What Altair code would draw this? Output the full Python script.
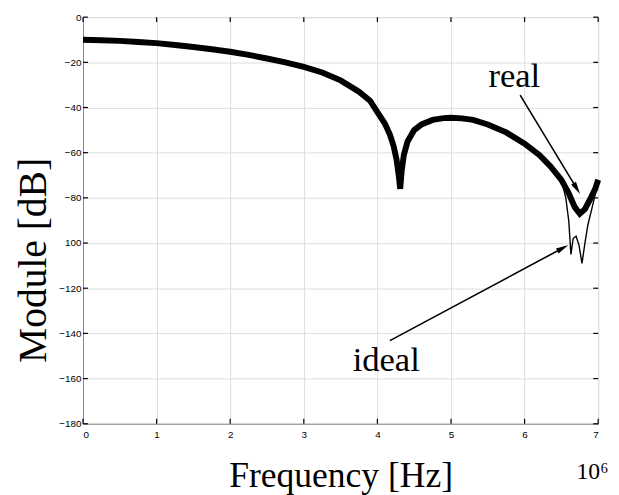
import altair as alt
import pandas as pd

# ---- data ----
freq = [0.0, 0.25, 0.5, 0.75, 1.0, 1.25, 1.5, 1.75, 2.0, 2.25, 2.5, 2.75, 3.0, 3.25,
        3.5, 3.75, 3.9, 4.0, 4.1, 4.17, 4.22, 4.26, 4.29, 4.31, 4.33, 4.36, 4.41,
        4.5, 4.6, 4.75, 4.9, 5.0, 5.15, 5.3, 5.5, 5.75, 6.0, 6.2, 6.35, 6.5, 6.6,
        6.68, 6.75, 6.82, 6.9, 6.96, 7.0]
real_db = [-10, -10.2, -10.5, -11, -11.5, -12.3, -13.2, -14.2, -15.3, -16.7, -18.3,
           -20, -22, -24.5, -28, -33, -37, -42, -47, -52, -57, -63, -70, -76, -68,
           -61, -55, -50, -47.5, -45.5, -44.7, -44.5, -44.8, -45.5, -47.5, -51, -56,
           -61, -66, -72, -78, -84, -87, -85, -80, -76, -72]

ideal_tail_freq = [6.56, 6.6, 6.63, 6.66, 6.7, 6.74, 6.78, 6.82, 6.86, 6.92, 6.97, 7.0]
ideal_tail_db = [-80, -90, -105, -98, -97, -101, -109, -100, -92, -84, -77, -73]

x_ticks = [0, 1, 2, 3, 4, 5, 6, 7]
y_ticks = [0, -20, -40, -60, -80, -100, -120, -140, -160, -180]

# annotations
label_text = ["real", "ideal"]
label_x = [5.86, 4.12]
label_y = [-31.0, -156.8]
arrow_x0 = [5.94, 4.17]
arrow_y0 = [-34.5, -143.2]
arrow_x1 = [6.71, 6.52]
arrow_y1 = [-75.9, -102.2]
arrow_angle = [148.6, 61.8]

# ---- tables ----
n_real = [i for i, f in enumerate(freq) if f <= 6.5]
ideal_freq = [freq[i] for i in n_real] + ideal_tail_freq
ideal_db = [real_db[i] for i in n_real] + ideal_tail_db

real_df = pd.DataFrame({"f": freq, "db": real_db})
ideal_df = pd.DataFrame({"f": ideal_freq, "db": ideal_db})
labels_df = pd.DataFrame({"t": label_text, "f": label_x, "db": label_y})
arrows_df = pd.DataFrame({"f": arrow_x0, "db": arrow_y0, "f2": arrow_x1, "db2": arrow_y1,
                          "ang": arrow_angle})
xt_df = pd.DataFrame({"f": x_ticks})
yt_df = pd.DataFrame({"db": y_ticks})

W, H = 522, 412
xscale = alt.Scale(domain=[0, 7], nice=False, zero=False)
yscale = alt.Scale(domain=[-180, 0], nice=False, zero=False)

x_axis = alt.Axis(values=x_ticks, format="d", ticks=False, labelPadding=6,
                  title="Frequency [Hz]", titleFont="Liberation Serif", titleFontSize=36,
                  titleFontWeight="normal", titleColor="black", titleY=53,
                  titleBaseline="middle", titleX=W / 2)
y_axis = alt.Axis(values=y_ticks, ticks=False, labelPadding=2,
                  labelExpr="datum.value == -100 ? '100' : datum.label",
                  title="Module [dB]", titleFont="Liberation Serif", titleFontSize=40,
                  titleFontWeight="normal", titleColor="black", titleAngle=-90,
                  titleX=-50, titleY=246, titleBaseline="middle", titleAlign="center")

real_line = alt.Chart(real_df).mark_line(color="black", strokeWidth=6).encode(
    x=alt.X("f:Q", scale=xscale, axis=x_axis),
    y=alt.Y("db:Q", scale=yscale, axis=y_axis),
)
ideal_line = alt.Chart(ideal_df).mark_line(color="black", strokeWidth=1.4).encode(
    x=alt.X("f:Q", scale=xscale),
    y=alt.Y("db:Q", scale=yscale),
)

arrow_lines = alt.Chart(arrows_df).mark_rule(color="black", strokeWidth=1.6).encode(
    x=alt.X("f:Q", scale=xscale), y=alt.Y("db:Q", scale=yscale),
    x2="f2:Q", y2="db2:Q",
)
arrow_heads = alt.Chart(arrows_df).mark_point(
    shape="M0,-1L0.45,1L-0.45,1Z", filled=True, color="black", opacity=1, size=160
).encode(
    x=alt.X("f2:Q", scale=xscale), y=alt.Y("db2:Q", scale=yscale),
    angle=alt.Angle("ang:Q", scale=None),
)
labels = alt.Chart(labels_df).mark_text(
    font="Liberation Serif", fontSize=35, color="black", baseline="alphabetic", align="center"
).encode(
    x=alt.X("f:Q", scale=xscale), y=alt.Y("db:Q", scale=yscale), text="t:N",
)

tick_style = dict(color="black", strokeWidth=1.2)
yt_left = alt.Chart(yt_df).mark_rule(**tick_style).encode(
    y=alt.Y("db:Q", scale=yscale), x=alt.value(0), x2=alt.value(5))
yt_right = alt.Chart(yt_df).mark_rule(**tick_style).encode(
    y=alt.Y("db:Q", scale=yscale), x=alt.value(W), x2=alt.value(W - 5))
xt_bottom = alt.Chart(xt_df).mark_rule(**tick_style).encode(
    x=alt.X("f:Q", scale=xscale), y=alt.value(H), y2=alt.value(H - 5))
xt_top = alt.Chart(xt_df).mark_rule(**tick_style).encode(
    x=alt.X("f:Q", scale=xscale), y=alt.value(0), y2=alt.value(5))

exp_text = alt.Chart(pd.DataFrame({"t": ["10⁶"]})).mark_text(
    font="Liberation Serif", fontSize=24, color="black", align="left", baseline="alphabetic"
).encode(text="t:N", x=alt.value(500), y=alt.value(468))

chart = alt.layer(
    ideal_line, real_line, arrow_lines, arrow_heads, labels,
    yt_left, yt_right, xt_bottom, xt_top, exp_text,
).properties(
    width=W, height=H,
    autosize=alt.AutoSizeParams(type="none"),
    padding={"left": 76, "top": 6, "right": 13, "bottom": 75},
).configure_view(
    stroke="black", strokeWidth=1.5
).configure_axis(
    domainColor="black", domainWidth=1.5,
    labelFont="Liberation Sans", labelFontWeight="bold", labelFontSize=11, labelColor="black",
    grid=True, gridColor="#222222", gridDash=[1.5, 7], gridWidth=1.2, gridOpacity=0.9,
).configure(background="white")

chart.save("out.html", embed_options={"renderer": "svg", "actions": False})
